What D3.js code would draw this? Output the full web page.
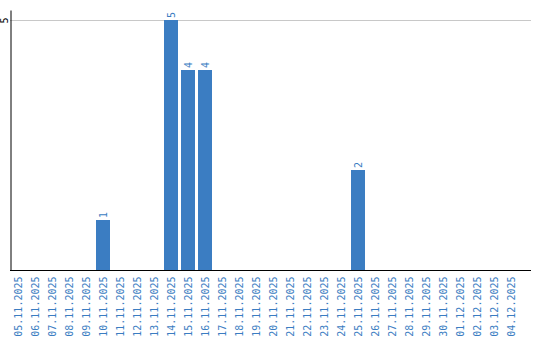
<!DOCTYPE html>
<html>
<head>
<meta charset="utf-8">
<script src="https://cdn.jsdelivr.net/npm/d3@7"></script>
<style>
  body { margin: 0; background: #fff; }
  svg { display: block; }
  text { font-family: "DejaVu Sans Mono", monospace; font-size: 10px; }
</style>
</head>
<body>
<svg></svg>
<script>
var dates = ["05.11.2025", "06.11.2025", "07.11.2025", "08.11.2025", "09.11.2025",
	"10.11.2025", "11.11.2025", "12.11.2025", "13.11.2025", "14.11.2025",
	"15.11.2025", "16.11.2025", "17.11.2025", "18.11.2025", "19.11.2025",
	"20.11.2025", "21.11.2025", "22.11.2025", "23.11.2025", "24.11.2025",
	"25.11.2025", "26.11.2025", "27.11.2025", "28.11.2025", "29.11.2025",
	"30.11.2025", "01.12.2025", "02.12.2025", "03.12.2025", "04.12.2025"];
var counts = [0, 0, 0, 0, 0, 1, 0, 0, 0, 5, 4, 4, 0, 0, 0, 0, 0, 0, 0, 0, 2, 0, 0, 0, 0, 0, 0, 0, 0, 0];
var yTicks = [5];

var draw = function() {
	var width = 540, height = 340;
	var blue = "#3b7dc2";

	var svg = d3.select("svg")
		.attr("width", width)
		.attr("height", height);

	var data = dates.map(function(d, i) {
		return { date: d, value: counts[i] };
	});

	// scales
	var x = d3.scaleBand()
		.domain(dates)
		.range([11, 521]);

	var y = d3.scaleLinear()
		.domain([0, 5.2])
		.range([270, 10]);

	// grid lines
	svg.append("g")
		.selectAll("line")
		.data(yTicks)
		.enter()
		.append("line")
		.attr("x1", 10)
		.attr("x2", 531)
		.attr("y1", function(d) { return y(d) + 0.5; })
		.attr("y2", function(d) { return y(d) + 0.5; })
		.attr("stroke", "#c8c8c8")
		.attr("stroke-width", 1);

	// bars
	svg.append("g")
		.selectAll("rect")
		.data(data.filter(function(d) { return d.value > 0; }))
		.enter()
		.append("rect")
		.attr("x", function(d) { return x(d.date); })
		.attr("y", function(d) { return y(d.value); })
		.attr("width", x.bandwidth() - 3)
		.attr("height", function(d) { return y(0) - y(d.value); })
		.attr("fill", blue);

	// value labels
	svg.append("g")
		.selectAll("text")
		.data(data.filter(function(d) { return d.value > 0; }))
		.enter()
		.append("text")
		.attr("transform", function(d) {
			return "translate(" + (x(d.date) + (x.bandwidth() - 3) / 2) + "," + (y(d.value) - 2) + ") rotate(-90)";
		})
		.attr("dy", "0.35em")
		.attr("fill", blue)
		.text(function(d) { return d.value; });

	// y axis
	var yAxis = svg.append("g")
		.attr("transform", "translate(10.5,0)")
		.call(d3.axisLeft(y).tickValues(yTicks).tickFormat(d3.format("d")).tickSize(0));
	yAxis.select(".domain").attr("stroke", "#000");
	yAxis.selectAll("text")
		.attr("text-anchor", "middle")
		.attr("x", null)
		.attr("dy", null)
		.attr("transform", "translate(-2.5,0) rotate(-90)")
		.attr("fill", "#000");

	// x axis
	var xAxis = svg.append("g")
		.attr("transform", "translate(0,270.5)")
		.call(d3.axisBottom(x).tickSize(0).tickSizeOuter(0));
	xAxis.select(".domain")
		.attr("d", "M10,0H531")
		.attr("stroke", "#000");
	xAxis.selectAll(".tick")
		.attr("transform", function(d) { return "translate(" + (x(d) + (x.bandwidth() - 3) / 2) + ",0)"; });
	xAxis.selectAll("text")
		.attr("y", null)
		.attr("dy", "0.35em")
		.attr("text-anchor", "end")
		.attr("transform", "translate(0,6) rotate(-90)")
		.attr("fill", blue);
};

draw();
</script>
</body>
</html>
